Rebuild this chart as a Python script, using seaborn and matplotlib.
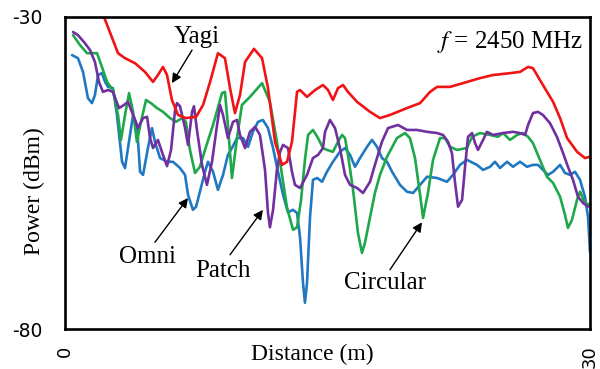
import numpy as np
import pandas as pd
import matplotlib
matplotlib.use("Agg")
import matplotlib.pyplot as plt
import seaborn as sns

# ---- data (distance in m, power in dBm) ----
yagi_x = [2.0, 2.23, 3.03, 3.43, 4.0, 4.57, 5.03, 5.31, 5.6, 5.83, 6.11, 6.46, 6.91, 7.49, 7.89,
          8.29, 8.74, 9.14, 9.43, 9.71, 10.0, 10.29, 10.8, 11.26, 11.6, 12.0, 12.4, 12.69, 12.97,
          13.26, 13.43, 13.83, 14.29, 14.74, 15.03, 15.31, 15.6, 15.89, 16.17, 16.69, 17.43, 18.0,
          18.57, 19.54, 20.29, 20.86, 21.26, 22.0, 22.74, 23.71, 24.46, 25.43, 26.0, 26.46, 26.74,
          27.31, 27.89, 28.29, 28.69, 29.26, 29.71, 30.0]
yagi_y = [-28.1, -30.0, -35.8, -36.6, -37.4, -38.8, -40.4, -39.3, -38.0, -39.3, -43.3, -45.7, -46.2,
          -46.0, -44.1, -40.4, -35.8, -36.6, -41.4, -45.4, -42.5, -37.2, -35.1, -36.6, -41.4, -50.0,
          -53.7, -53.2, -50.0, -42.0, -41.7, -42.8, -41.7, -40.9, -41.7, -43.3, -41.4, -40.9, -42.0,
          -43.6, -45.2, -46.2, -45.7, -44.6, -43.8, -42.0, -41.2, -41.2, -40.6, -39.8, -39.3, -39.0,
          -38.8, -38.0, -38.2, -40.9, -43.6, -46.2, -49.4, -51.6, -52.6, -52.4]

circ_x = [0.46, 0.86, 1.26, 1.83, 2.11, 2.4, 2.74, 3.03, 3.2, 3.43, 3.66, 3.89, 4.11, 4.34, 4.63,
          4.91, 5.26, 5.6, 6.0, 6.34, 6.69, 6.91, 7.14, 7.43, 7.71, 8.0, 8.46, 8.97, 9.14, 9.31, 9.54,
          9.83, 10.11, 10.57, 11.26, 11.71, 12.11, 12.4, 12.69, 13.03, 13.26, 13.49, 13.71, 13.89,
          14.17, 14.46, 14.74, 14.97, 15.31, 15.6, 15.83, 16.0, 16.17, 16.46, 16.74, 16.97, 17.14,
          17.43, 17.71, 18.0, 18.4, 18.97, 19.43, 19.71, 20.0, 20.29, 20.46, 20.74, 21.03, 21.43,
          21.71, 22.0, 22.4, 22.97, 23.26, 23.71, 24.29, 24.74, 25.03, 25.43, 25.83, 26.17, 26.46,
          26.74, 27.14, 27.54, 27.89, 28.29, 28.57, 28.74, 28.97, 29.26, 29.43, 29.71, 30.0]
circ_y = [-32.9, -34.5, -35.8, -35.8, -38.0, -40.4, -41.7, -45.7, -49.7, -45.7, -42.2, -45.2, -50.0,
          -46.8, -43.3, -43.8, -44.6, -45.2, -46.2, -46.8, -46.2, -46.8, -51.3, -55.0, -54.0, -51.3,
          -47.3, -42.2, -42.0, -47.3, -55.8, -49.4, -44.1, -42.8, -40.6, -43.6, -50.0, -55.3, -60.6,
          -64.1, -63.7, -59.3, -52.9, -48.9, -48.1, -49.4, -51.0, -51.3, -51.6, -50.0, -48.9, -49.4,
          -52.1, -57.7, -64.6, -67.8, -66.2, -62.1, -58.2, -55.3, -52.4, -49.4, -48.6, -49.4, -52.6,
          -58.5, -62.2, -58.2, -52.9, -49.4, -49.4, -50.8, -51.3, -51.0, -49.2, -48.6, -48.9, -49.2,
          -48.6, -49.7, -48.9, -48.6, -49.2, -50.2, -52.9, -55.6, -56.6, -58.8, -61.7, -63.8, -62.5,
          -59.3, -58.0, -59.8, -60.1]

omni_x = [0.4, 0.74, 1.03, 1.31, 1.54, 1.71, 1.89, 2.11, 2.29, 2.46, 2.74, 2.97, 3.26, 3.43, 3.6,
          3.89, 4.11, 4.29, 4.46, 4.74, 4.97, 5.14, 5.43, 5.83, 6.17, 6.57, 6.86, 7.03, 7.31, 7.49,
          7.71, 8.0, 8.17, 8.46, 8.74, 9.03, 9.31, 9.54, 9.83, 10.17, 10.46, 10.74, 11.03, 11.31,
          11.6, 11.89, 12.17, 12.46, 12.74, 13.03, 13.26, 13.43, 13.6, 13.71, 13.83, 14.0, 14.17,
          14.4, 14.69, 14.97, 15.31, 15.71, 16.0, 16.29, 16.57, 16.86, 17.26, 17.54, 17.83, 18.11,
          18.4, 18.69, 19.14, 19.54, 19.89, 20.29, 20.69, 21.26, 21.83, 22.17, 22.57, 22.97, 23.54,
          23.89, 24.29, 24.57, 24.86, 25.26, 25.6, 26.0, 26.4, 26.74, 27.03, 27.31, 27.6, 27.89,
          28.29, 28.57, 28.86, 29.14, 29.43, 29.71, 29.89, 30.0]
omni_y = [-36.1, -36.6, -38.8, -43.0, -43.8, -42.5, -39.3, -39.0, -40.4, -41.2, -41.4, -45.7, -53.2,
          -54.2, -51.0, -45.7, -47.3, -54.8, -55.3, -51.0, -47.8, -50.0, -52.6, -53.2, -53.2, -54.2,
          -55.3, -58.5, -60.9, -60.4, -58.0, -54.8, -53.2, -54.8, -57.7, -55.3, -52.1, -51.0, -49.4,
          -49.4, -50.8, -48.4, -46.8, -46.5, -47.8, -51.0, -54.8, -58.5, -61.3, -60.9, -61.4, -65.3,
          -72.6, -75.8, -72.6, -62.1, -56.1, -55.8, -56.4, -54.8, -53.2, -51.6, -51.0, -52.1, -54.0,
          -52.6, -50.8, -49.7, -50.8, -52.6, -53.2, -54.8, -56.9, -58.0, -58.2, -56.9, -55.6, -55.8,
          -56.4, -55.3, -53.7, -52.9, -53.7, -54.5, -54.0, -53.2, -54.2, -53.2, -54.0, -53.2, -54.0,
          -53.7, -53.7, -54.5, -55.3, -54.8, -53.7, -55.0, -55.3, -54.8, -56.1, -58.8, -62.1, -67.7]

patch_x = [0.46, 0.74, 1.14, 1.43, 1.71, 1.94, 2.17, 2.46, 2.74, 2.91, 3.09, 3.37, 3.6, 3.89, 4.17,
           4.46, 4.69, 4.86, 5.03, 5.31, 5.6, 5.83, 6.06, 6.29, 6.4, 6.57, 6.86, 7.03, 7.26, 7.37,
           7.54, 7.83, 8.11, 8.4, 8.69, 8.86, 9.03, 9.31, 9.6, 9.83, 10.0, 10.29, 10.57, 10.86, 11.14,
           11.43, 11.6, 11.71, 11.89, 12.11, 12.29, 12.46, 12.74, 12.97, 13.14, 13.43, 13.83, 14.17,
           14.46, 14.74, 14.86, 15.14, 15.43, 15.71, 16.0, 16.29, 16.69, 17.03, 17.43, 17.71, 18.11,
           18.46, 19.03, 19.54, 20.11, 20.69, 21.26, 21.6, 21.89, 22.11, 22.29, 22.46, 22.69, 22.86,
           23.03, 23.26, 23.43, 23.6, 23.89, 24.11, 24.46, 25.03, 25.6, 26.0, 26.29, 26.46, 26.74,
           27.03, 27.31, 27.71, 28.11, 28.46, 28.74, 29.03, 29.31, 29.6, 29.89]
patch_y = [-32.4, -32.9, -34.2, -35.3, -37.2, -40.4, -42.0, -41.7, -42.0, -43.3, -44.6, -44.1, -43.6,
           -45.7, -47.8, -46.2, -46.0, -49.4, -51.0, -49.7, -52.1, -53.9, -51.3, -44.9, -43.8, -44.3,
           -47.8, -50.5, -45.2, -44.3, -48.1, -53.7, -56.9, -53.2, -47.3, -44.1, -45.7, -49.4, -46.8,
           -46.5, -48.9, -51.0, -48.4, -47.6, -48.9, -54.5, -61.4, -63.7, -60.9, -54.5, -51.6, -50.5,
           -51.0, -54.8, -56.9, -57.4, -55.3, -52.6, -52.1, -51.0, -48.4, -46.5, -47.8, -51.0, -55.3,
           -56.9, -57.4, -58.2, -56.4, -53.7, -50.0, -47.8, -47.3, -48.1, -48.1, -48.4, -48.6, -48.9,
           -50.0, -51.8, -56.6, -60.4, -59.3, -54.0, -49.2, -48.6, -50.2, -51.3, -49.7, -48.4, -48.9,
           -48.6, -48.4, -48.6, -48.9, -47.3, -45.4, -45.2, -45.7, -47.0, -49.2, -51.8, -54.0, -56.1,
           -58.8, -59.8, -60.4]

series = ["Omni", "Circular", "Patch", "Yagi"]
colors = {"Yagi": "#f01414", "Omni": "#1f78c1", "Patch": "#7030a0", "Circular": "#1ea84a"}
xs = {"Yagi": yagi_x, "Omni": omni_x, "Patch": patch_x, "Circular": circ_x}
ys = {"Yagi": yagi_y, "Omni": omni_y, "Patch": patch_y, "Circular": circ_y}

df = pd.concat([pd.DataFrame({"Distance": xs[s], "Power": ys[s], "Antenna": s}) for s in series],
               ignore_index=True)

sns.set_style("white")
plt.rcParams["font.family"] = ["Liberation Serif", "DejaVu Serif"]
plt.rcParams["mathtext.fontset"] = "stix"
plt.rcParams["text.color"] = "black"
plt.rcParams["axes.labelcolor"] = "black"
plt.rcParams["xtick.color"] = "black"
plt.rcParams["ytick.color"] = "black"

fig = plt.figure(figsize=(6.0, 3.69), dpi=100)
ax = fig.add_axes([65 / 600, 40 / 369, 525 / 600, 312 / 369])

sns.lineplot(data=df, x="Distance", y="Power", hue="Antenna", hue_order=series,
             palette=colors, estimator=None, sort=False, linewidth=1.9, legend=False, ax=ax)
for ln in ax.lines:
    ln.set_solid_joinstyle("round")
    ln.set_solid_capstyle("round")

ax.set_xlim(0, 30)
ax.set_ylim(-80, -30)
ax.set_xticks([0, 30])
ax.set_yticks([-80, -30])
ax.set_xticklabels(["0", "30"], rotation=90, family="DejaVu Sans", fontsize=13)
ax.set_yticklabels(["-80", "-30"], family="DejaVu Sans", fontsize=13.5)
ax.tick_params(axis="both", direction="out", length=6, width=1.8, color="black",
               labelcolor="black")
ax.tick_params(axis="y", pad=10)
ax.tick_params(axis="x", pad=6)
for sp in ax.spines.values():
    sp.set_visible(True)
    sp.set_color("black")
    sp.set_linewidth(1.9)

ax.set_xlabel("Distance (m)", fontsize=17, va="center")
ax.xaxis.set_label_coords(312 / 525 - 65 / 525, -0.08)
ax.set_ylabel("Power (dBm)", fontsize=17, va="center")
ax.yaxis.set_label_coords(-0.058, 0.442)

lab_kw = dict(fontsize=18, ha="center", va="center")
ax.text(7.54, -33.2, "Yagi", **lab_kw)
ax.text(4.69, -68.5, "Omni", **lab_kw)
ax.text(9.03, -70.7, "Patch", **lab_kw)
ax.text(18.29, -72.6, "Circular", **lab_kw)

arrow_kw = dict(arrowstyle="-|>", color="black", lw=1.0, mutation_scale=14, shrinkA=0, shrinkB=0)
ax.annotate("", xy=(6.11, -40.6), xytext=(7.26, -35.3), arrowprops=arrow_kw)
ax.annotate("", xy=(7.03, -59.0), xytext=(5.14, -66.1), arrowprops=arrow_kw)
ax.annotate("", xy=(11.31, -60.9), xytext=(9.43, -68.1), arrowprops=arrow_kw)
ax.annotate("", xy=(20.4, -62.9), xytext=(18.57, -70.5), arrowprops=arrow_kw)

ax.text(0.987, 0.92, r"$f$ = 2450 MHz", transform=ax.transAxes, ha="right", va="center", fontsize=18)

fig.savefig("out.png", dpi=100)
